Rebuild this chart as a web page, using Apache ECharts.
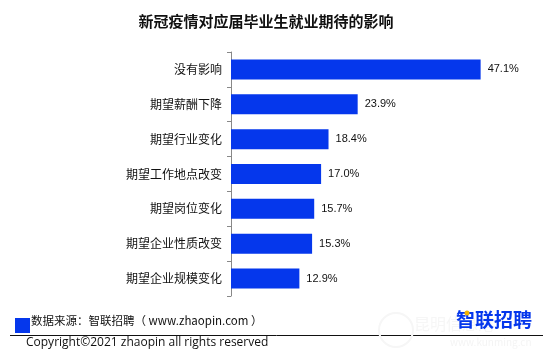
<!DOCTYPE html>
<html><head><meta charset="utf-8">
<script src="https://cdn.jsdelivr.net/npm/echarts@6/dist/echarts.min.js"></script>
<style>html,body{margin:0;padding:0;background:#fff}#c{width:554px;height:362px}</style>
</head><body><div id="c"></div>
<script>
const categories = ['没有影响','期望薪酬下降','期望行业变化','期望工作地点改变','期望岗位变化','期望企业性质改变','期望企业规模变化'];
const values = [47.1, 23.9, 18.4, 17.0, 15.7, 15.3, 12.9];
const titleText = '新冠疫情对应届毕业生就业期待的影响';
const sourceText = '数据来源：智联招聘（ www.zhaopin.com ）';
const copyrightText = 'Copyright©2021 zhaopin all rights reserved';
const logoText = '智联招聘';

const BLUE = '#0537EC';
const FONT = '"Noto Sans CJK SC", "Noto Sans", sans-serif';
const chart = echarts.init(document.getElementById('c'));
chart.setOption({
  animation: false,
  title: { text: titleText, left: 261, textAlign: 'center', top: 9,
    textStyle: { fontSize: 15, fontWeight: 'bold', color: '#111', fontFamily: FONT } },
  grid: { left: 231, top: 52, width: 265, height: 244 },
  xAxis: { type: 'value', min: 0, max: 50, show: false },
  yAxis: { type: 'category', data: categories, inverse: true,
    axisLine: { lineStyle: { color: '#888', width: 1 } },
    axisTick: { show: true, length: 4, lineStyle: { color: '#888' } },
    axisLabel: { fontSize: 12, color: '#111', margin: 9, fontFamily: FONT } },
  series: [{ type: 'bar', data: values, barWidth: 20,
    itemStyle: { color: BLUE },
    label: { show: true, position: 'right', distance: 7, fontSize: 11, color: '#111',
      fontFamily: 'Arial, "Liberation Sans", sans-serif', formatter: p => p.value.toFixed(1) + '%' } }],
  graphic: [
    { type: 'rect', shape: { x: 15, y: 318, width: 15, height: 15 }, style: { fill: BLUE } },
    { type: 'text', left: 31, top: 315, style: { text: sourceText, fontSize: 11.5, fill: '#111', fontFamily: FONT } },
    { type: 'line', shape: { x1: 10, y1: 335.5, x2: 543, y2: 335.5 }, style: { stroke: '#111', lineWidth: 1 } },
    { type: 'text', left: 26, top: 337, style: { text: copyrightText, fontSize: 12, fill: '#111', fontFamily: '"Open Sans", "Noto Sans", sans-serif' } },
    { type: 'text', left: 414, top: 316, style: { text: '昆明信息港', fontSize: 16, fill: '#f6f6f6', fontFamily: FONT } },
    { type: 'text', left: 450, top: 337, style: { text: 'www.kunming.cn', fontSize: 10, fill: '#f4f4f4', fontFamily: FONT } },
    { type: 'circle', shape: { cx: 396, cy: 330, r: 17 }, style: { fill: 'none', stroke: '#f6f6f6', lineWidth: 2 } },
    { type: 'text', left: 456, top: 310, style: { text: logoText, fontSize: 19, fontWeight: 'bold', fill: BLUE, fontFamily: FONT } },
    { type: 'circle', shape: { cx: 467, cy: 313, r: 2.5 }, style: { fill: '#F5B400' } }
  ]
});
</script></body></html>
